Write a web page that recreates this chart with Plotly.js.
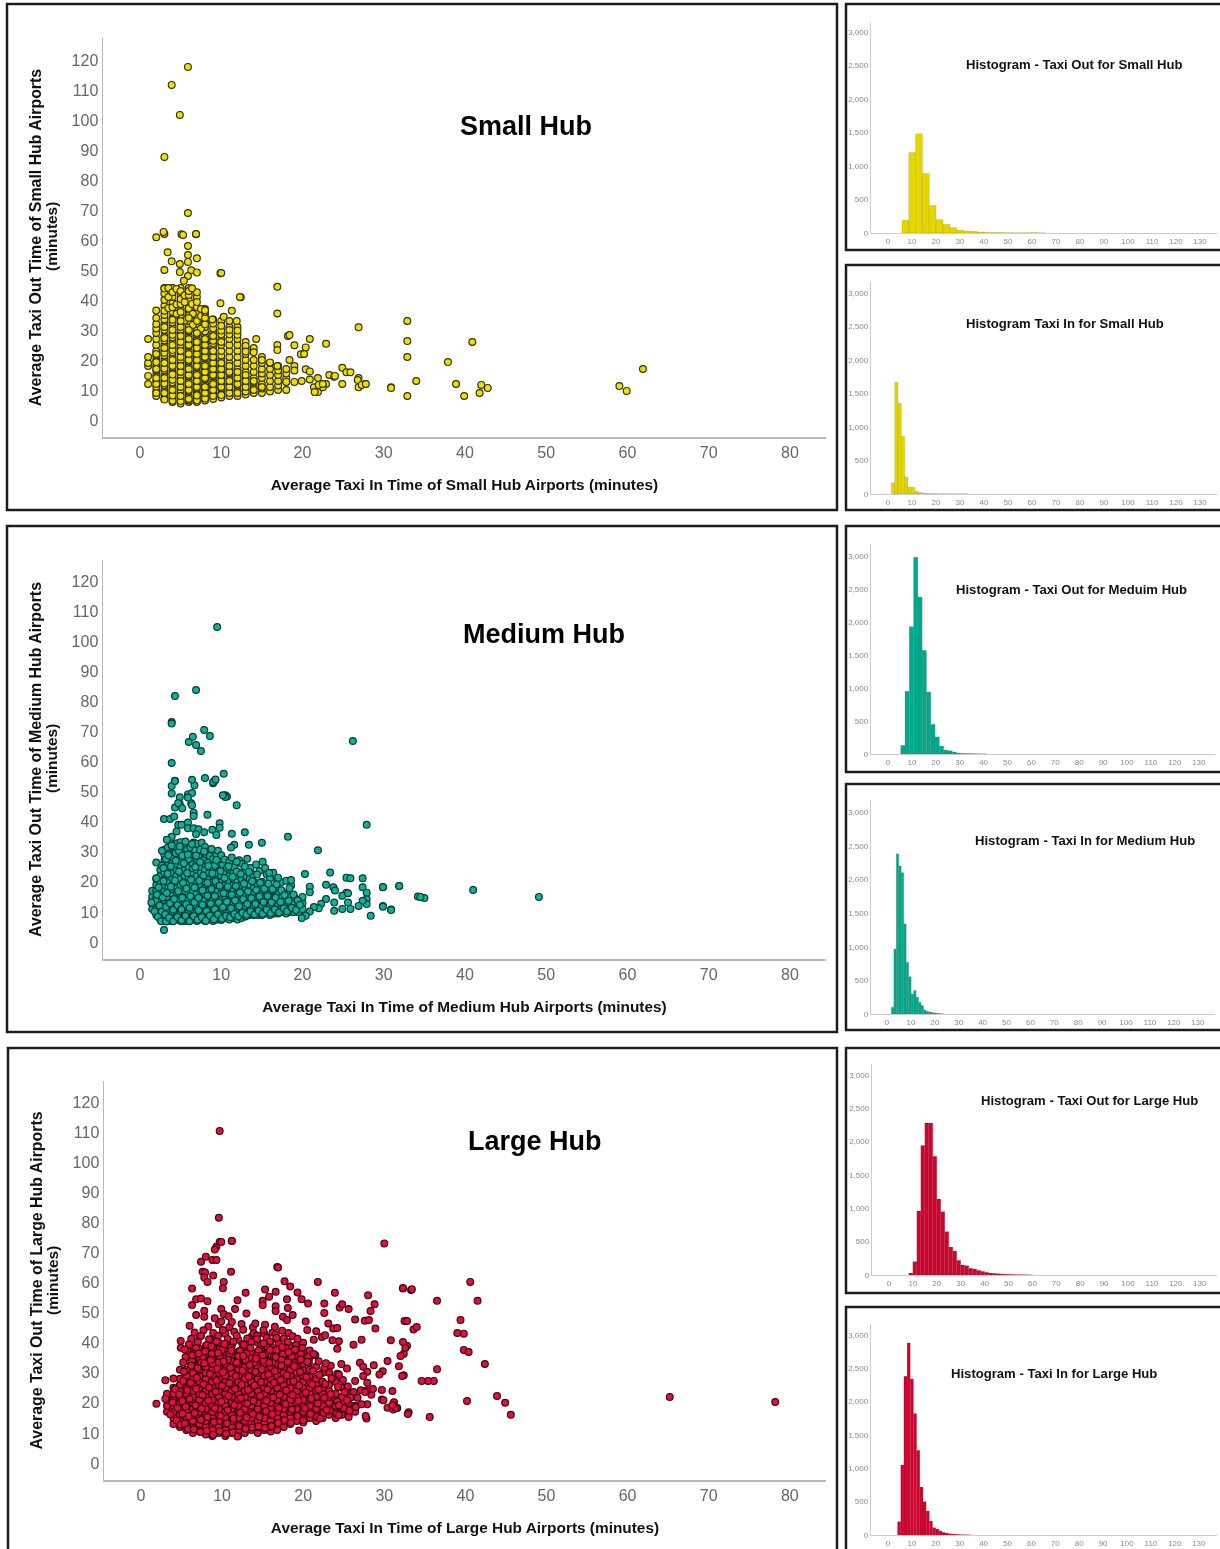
<!DOCTYPE html>
<html>
<head>
<meta charset="utf-8">
<script src="https://cdn.plot.ly/plotly-3.0.1.min.js"></script>
<style>html,body{margin:0;padding:0;background:#fff;overflow:hidden}#chart{width:1220px;height:1549px;filter:blur(0.4px)}</style>
</head>
<body>
<div id="chart"></div>
<script>
// ---------- DATA: scatter, dense core read as columns of taxi-in with taxi-out values ----------
const smallCoreIn=[1,2,3,4,5,6,7,8,9,10,11,12,13,14,15,16,17,18];
const smallCoreOut=[
[12,14.7,18,19,21,27],
[8,9.5,11,13,15,16.5,18,20,21.5,23,25,27,29,30.5,32,34,36.5],
[7,8.5,10,11.5,13,15,16.5,18,20,21.5,23,25,26.5,28,30,32,33.5,35,38,40,44],
[6,7.5,9,11,12.5,14,16,17.5,19,21,22.5,24,26,27.5,29,31,32.5,34,36,39,41,44],
[5.5,7,9,10,12,14,15,17,19,20,22,24,25,27,29,30,32,34,35,37,42,44],
[6,8,9.5,11,13,14.5,16,18,19.5,21,23,24.5,26,28,29.5,31,33,36.5,38,40,44],
[6,7.5,9,10.5,12,14,16,17.5,19,21,23,25,27,28.5,30,32,34,36,41],
[6.5,8,10,12,13.5,15,17,19,20.5,22,24,26,28,29.5,31,33,35,37],
[7,9,11,13,14.5,16,18,20,22,24,25.5,27,29,33.5],
[7.5,9,10.5,12,14,16,18,20,21.5,23,25,27,28.5,33],
[8,10,12,14,15.5,17,19,21,23,25,27,31,33],
[8,10,11.5,13,15,17,19,21,23,25,27,31],
[8.5,10,12,14,16,18,20,22,24,26],
[9,11,12.5,14,16,18,20,24],
[9,10.5,12,14,15.5,17,21],
[9.5,11,13,15,17,19],
[10,11.5,13,15,16.5,18],
[10,12.7,14,15.5,17]];
const smallExtra=[[2,9],[2,12],[2,14],[2,17],[2,19.3],[2,22],[3,6.8],[3,9],[3,12.2],[3,14],[3,17.2],[3,19],[3,22.4],[3,24],[3,27.3],[3,31],[4,6.4],[4,8.2],[4,10],[4,13.4],[4,15.2],[4,18],[4,20],[4,23.3],[4,25],[4,28.4],[4,30],[5,6.3],[5,8],[5,11],[5,13],[5,16],[5,18],[5,21],[5,23],[5,26],[5,28],[5,31],[5,33],[6,6.5],[6,7],[6,10],[6,12],[6,15],[6,17],[6,20],[6,22],[6,25],[6,27],[6,30],[6,34],[7,6.6],[7,8.2],[7,11],[7,13],[7,15],[7,18],[7,20],[7,22],[7,24],[7,26],[7,29],[8,7.2],[8,9],[8,11],[8,14],[8,16],[8,18],[8,21],[8,23],[8,25],[8,27],[9,8],[9,10],[9,12],[9,15],[9,17],[9,19],[9,21],[9,23],[10,8.3],[10,11],[10,13],[10,15],[10,17],[10,19],[11,9],[11,11],[11,13],[11,16],[11,18],[12,9],[12,12],[12,14],[12,16],[13,9.5],[13,11],[13,13],[13,15],[14,10],[14,13],[15,11]];
const smallUpper=[[3,36.4],[3,42.2],[3,43.8],[3.5,37.3],[3.5,41],[3.5,44],[4,37.6],[4,42.6],[4,33.4],[4.5,35.4],[4.5,38.6],[4.5,43.7],[5,38.7],[5,40.3],[5,36],[5,43],[5.5,33.2],[5.5,39.3],[5.5,41.6],[6,34.8],[6,37.2],[6,41.7],[6,43],[6.4,38.7],[6.5,31.7],[6.5,35.4],[7,33],[7,37.7],[7,39.3],[7,42.6],[7.5,30.4],[7.5,34.7],[7.5,37],[8,31.9],[8,34],[8,36],[9,26.4],[9,28],[9,30.5],[9,32.2],[10,26],[10,29.8],[10,31.4],[11,28.6],[11,30],[12,28.4],[12,29.8],[13,24.7],[13,22.8],[14,22.6],[15,19],[15,20]];
const smallOutlierIn=[2,3,5.1,6.9,5.9,3.4,5.9,7,5.9,3.9,4.9,3,4.9,6.3,7,5.9,5.4,9.9,16.9,6.4,12.4,9.9,11.3,16.9,8,10.3,11.9,8.9,26.9,14.3,20.9,18.2,18.4,16.9,16.9,19,22.9,20.4,19.8,20.2,18.4,16,16.9,19,19,24.9,25.4,25.9,20.4,20.9,21.9,23.3,23.9,26.9,26.9,27.7,30.9,24.9,22.9,21.9,21.4,22.5,20.9,19.9,19,18,12.3,32.9,32.9,32.9,32.9,40.9,37.9,38.9,39.9,34,30.9,41.8,42,42.8,59,59.9,61.9,5.9,3.9,4.9,3,5.9,10,6.9,5.3,2.9,24,22,22.5,21.5,26.8,27.3,27.8];
const smallOutlierOut=[60.9,62,61.9,61.9,58,55.9,55,53.9,52.7,52.9,52,50,49.3,49.9,49.2,48,46.4,48.9,44.4,43.9,40.9,38.9,36.4,35.5,36.6,34.4,33,33.5,30.9,27,27,28,28.3,25,23.3,24.9,25.4,24.2,21.9,22,20,19.2,18,18,16.5,17.4,15.9,15.9,16.9,16.2,14,15,14.4,14,10.9,12,10.9,12,12,9.3,10.9,10.9,13.5,13,12.7,12.7,41,33,26.3,21,8,26,19.3,12,8,13,10.7,9,11.7,10.7,11.3,9.7,17,117.7,111.7,101.7,87.7,69,49,62,61.7,62.7,14.7,11.7,12,9.3,13.3,11.7,12];

const mediumCoreIn=[1.5,2,2.5,3,3.5,4,4.5,5,5.5,6,6.5,7,7.5,8,8.5,9,9.5,10,10.5,11,11.5,12,12.5,13,13.5,14,14.5,15,15.5,16,16.5,17,17.5,18,18.5,19,19.5,20];
const mediumCoreOut=[
[11,13,15,17],
[9,11,13,15,17,19,21],
[7.5,9,11,12.5,14,16,18,20,22,24],
[7,8.5,10,12,14,15.5,17,19,21,23,25,27,29],
[7,9,11,13,15,17,18.5,20,22,24,26,28,30],
[7,8.5,10,12,14,16,17.5,19,21,23,25,27,29,31],
[7.5,9,11,13,15,16.5,18,20,22,24,26,28,30],
[7,8.5,10,12,14,16,17.5,19,21,23,25,27,29,31],
[7,9,11,13,15,17,19,20.5,22,24,26,28,30],
[7,8.5,10,12,14,16,18,20,21.5,23,25,27,29,31],
[7.5,9,11,13,15,17,19,21,23,24.5,26,28,30],
[7,8.5,10,12,14,16,18,20,22,24,26,27.5,29,31],
[7.5,9,11,13,15,17,19,21,23,25,27,29],
[7,8.5,10,12,14,16,18,20,22,24,26,28],
[7.5,9,11,13,15,17,19,21,23,25,27],
[7,8.5,10,12,14,16,18,20,22,24,26],
[7.5,9,11,13,15,17,19,21,23,25],
[7.3,8.5,10,12,14,16,18,20,22,24],
[8,9.5,11,13,15,17,19,21,23],
[7.5,9,10,12,14,16,18,20,22,24],
[8,9.5,11,13,15,17,19,21,23],
[7.5,9,10.5,12,14,16,18,20,22],
[8,10,11.5,13,15,17,19,21],
[8.5,10,12,14,16,18,20,22],
[9,10.5,12,13.5,15,17,19,21],
[9,10.5,12,14,16,18,20],
[9,11,13,15,17,19],
[9,10.5,12,14,16,18,20],
[9.5,11,13,15,17],
[9,10.5,12,14,16,18],
[9.5,11,13,15,17],
[9.5,11,12.5,14,16],
[10,11.5,13,15],
[9.5,11,12.5,14,16],
[10,11.5,13,15],
[10,11.5,13,15],
[10,12,14],
[11,13,15]];
const mediumExtra=[[1.8,10.2],[1.9,13.6],[2.1,15.7],[2.2,8.4],[2.3,18.2],[2.4,12.1],[2.6,6.9],[2.7,10.1],[2.8,14.8],[2.9,20.3],[2.9,24.6],[3.1,9.2],[3.2,6.8],[3.2,11.7],[3.3,16.3],[3.4,22.7],[3.5,28.8],[3.6,8.1],[3.7,12.9],[3.8,18.4],[3.8,25.2],[3.9,32.1],[4.1,6.9],[4.1,10.7],[4.2,14.3],[4.3,20.4],[4.4,27.1],[4.6,8.3],[4.6,12.2],[4.7,16.9],[4.8,23.4],[4.9,31.8],[5.1,7.2],[5.1,10.9],[5.2,14.7],[5.3,19.6],[5.4,26.2],[5.6,8.7],[5.7,12.5],[5.7,17.8],[5.8,22.9],[5.9,29.1],[6.1,6.9],[6.1,11.4],[6.2,15.2],[6.3,20.7],[6.4,32.6],[6.6,8.6],[6.7,13.2],[6.7,18.1],[6.8,24.9],[6.9,28.7],[7.1,7.4],[7.2,10.6],[7.2,14.7],[7.3,20.4],[7.4,26.6],[7.6,8.3],[7.7,12.4],[7.7,17.2],[7.8,22.1],[7.9,30.1],[8.1,7.1],[8.2,10.3],[8.3,15.4],[8.3,19.7],[8.4,25.3],[8.6,8.8],[8.7,12.7],[8.8,17.6],[8.9,22.8],[9.1,7.6],[9.2,10.9],[9.2,15.3],[9.3,20.2],[9.4,27.3],[9.6,9.2],[9.7,13.1],[9.8,18.7],[9.9,23.6],[10.1,7.8],[10.2,11.6],[10.3,16.2],[10.4,21.3],[10.6,8.7],[10.7,13.4],[10.8,18.4],[10.9,25.2],[11.1,8.2],[11.2,11.2],[11.3,15.7],[11.4,21.7],[11.6,9.3],[11.7,13.8],[11.8,18.6],[11.9,26.7],[12.1,8.6],[12.2,11.9],[12.3,16.4],[12.4,22.6],[12.6,9.7],[12.7,14.3],[12.8,19.4],[12.9,25.1],[13.1,9.1],[13.2,12.6],[13.3,16.8],[13.4,23.3],[13.6,10.2],[13.7,14.6],[13.8,20.3],[14.1,9.2],[14.2,12.7],[14.3,17.3],[14.4,22.4],[14.6,10.4],[14.7,15.2],[14.8,19.7],[15.1,9.4],[15.2,13.3],[15.3,17.7],[15.4,24.6],[15.6,10.7],[15.7,15.3],[15.8,19.4],[16.1,9.6],[16.2,13.2],[16.3,17.6],[16.6,10.8],[16.7,14.8],[16.8,19.2],[17.1,9.8],[17.3,13.3],[17.4,17.2],[17.7,11.2],[17.8,15.6],[18.1,10.2],[18.3,13.7],[18.4,17.9],[18.7,11.4],[18.9,15.8],[19.2,10.6],[19.4,13.8],[19.7,12.4]];
const mediumUpper=[[2.7,25.4],[3,30.7],[3.2,27.6],[3.4,31.3],[3.6,29.4],[3.8,33],[4,28.2],[4.2,31.9],[4.4,29.6],[4.6,32.8],[4.8,30.2],[5,33.2],[5.2,28.7],[5.4,31.6],[5.6,33.4],[5.8,30.7],[6,27.6],[6.2,31.4],[6.4,29.2],[6.6,33.1],[6.8,30.4],[7,32.7],[7.2,28.3],[7.4,30.7],[7.6,33],[7.8,27.2],[8,31.6],[8.2,29.1],[8.4,26.4],[8.6,28.6],[8.8,30.9],[9,27.7],[9.2,25.4],[9.4,28.9],[9.6,30.3],[9.8,26.6],[10,28.8],[10.2,25.7],[10.4,27.4],[10.7,24.7],[11,26.7],[11.3,28.1],[11.6,24.8],[11.9,23.4],[12.2,27.2],[12.5,26],[12.8,23.7],[13.2,27.7],[13.6,24.6],[13.9,22.4],[14.3,25.8],[14.7,23.6],[15.1,26.7],[15.6,22.4],[16,21.2],[16.4,23],[16.9,20.6],[17.4,19.9],[18,20.4],[18.6,18.8]];
const mediumOutlierIn=[2.95,27.9,18.2,21.9,12.9,11.3,15,13.4,11.6,11.2,8.3,11.9,10.5,10.7,6.7,9,9.2,3.9,4.3,3.9,4.9,5.9,4.3,4.9,5.2,6.3,6.4,6.6,6.6,2.95,3.7,4.2,4.7,5.9,5.1,5.9,6.6,7.2,7.9,8.9,9.8,9.8,9.4,6.9,4.5,3.9,3.3,2.7,2,2,1.4,15.9,17,18.6,20.3,23.4,25.4,25.9,27.4,22.9,23.8,24,20.9,20.9,27.4,29.9,31.9,34.2,27.9,27.9,27.9,27.4,26.9,25.4,24.9,25.6,25.6,25.9,24.9,23.9,23.9,22.9,22.3,22,21.4,20.9,20.4,19.9,29.9,30.9,28.4,49.1,41,35,34.5,31.9,29.9,29.9,30.9,9.5,6.9,4.3,3.9,3.9,26.2,7.9,8.6,6.5,6,6.9,7.5,3.9,10.3,8,9,9.3,6.4,4.3,10.5,10.2,6.4,5.9,4.7];
const mediumOutlierOut=[4,39,35,30.5,36.5,36,33,32.3,32.3,31.4,42.3,45.5,48.8,48.4,52.1,52.8,53.6,51.9,53.6,49.4,48.1,49,44.7,45.8,44.5,46.1,45.5,43,41.9,40.9,40.9,41.7,39,39.7,39,37.8,37.8,37.5,36.5,37.3,39.5,38,35.6,35.9,36.7,35,34,30.3,26.4,21.2,13.1,23,21.4,20.6,22.6,23.1,21.4,21.2,21.2,19,18.2,17.1,18.4,16.5,18.2,18.2,18.6,15.1,16.4,14.2,12.6,13.7,12,16.4,15.4,16.2,13.1,11,11,13.1,10.4,14.3,12.7,11.2,11.6,10.1,8.7,8,12,10.8,8.7,15,17.3,14.6,15,18.6,18.3,11.7,10.6,104.7,83.8,81.8,73.1,72.6,66.8,70.5,68.5,68.2,66.5,65.5,63.5,59.5,55.9,54.5,53.2,54,53.9,53.5,48.2,48.8,49.5,48,46.2];

const largeCoreIn=[3.2,4,4.8,5.6,6.4,7.2,8,8.8,9.6,10.4,11.2,12,12.8,13.6,14.4,15.2,16,16.8,17.6,18.4,19.2,20,20.8,21.6,22.4,23.2,24,24.8,25.6,26.4];
const largeCoreOut=[
[17,19,21,23],
[13,15,17,19,21,23,25],
[12,14,16,18,20,22,24,26,28,31],
[11,13,15,17,19,21,23,25,27,29,31,34],
[10,12,14,16,18,20,22,24,26,28,30,32,34,37,40],
[11,13,15,17,19,21,23,25,27,29,31,33,35,38,42],
[9.5,12,14,16,18,20,22,24,26,28,30,32,34,36,39],
[9,11,13,15,17,19,21,23,25,27,29,31,33,35,37,41],
[10,12,14,16,18,20,22,24,26,28,30,32,34,36,38,40],
[9,11,13,15,17,19,21,23,25,27,29,31,33,35,37,43],
[10,12,14,16,18,20,22,24,26,28,30,32,34,36,39],
[9,11,13,15,17,19,21,23,25,27,29,31,33,35,37,41],
[10,12,14,16,18,20,22,24,26,28,30,32,34,36,38],
[11,13,15,17,19,21,23,25,27,29,31,33,35,37,42],
[10,12,14,16,18,20,22,24,26,28,30,32,34,36,40],
[11,13,15,17,19,21,23,25,27,29,31,33,35,37,43],
[10.5,12,14,16,18,20,22,24,26,28,30,32,34,36,39],
[11,13,15,17,19,21,23,25,27,29,31,33,35,37,41],
[12,14,16,18,20,22,24,26,28,30,32,34,36,38],
[13,15,17,19,21,23,25,27,29,31,33,35,39],
[14,16,18,20,22,24,26,28,30,32,34,36],
[13.5,15,17,19,21,23,25,27,29,31,33,37],
[15,17,19,21,23,25,27,29,31,35],
[14,16,18,20,22,24,26,28,32],
[15,17,19,21,23,25,27,30],
[16,18,20,22,24,26,30],
[15,17,19,21,23,27],
[16,18,20,22,25],
[16,18,20,23],
[17,19,22]];
const largeExtra=[[3.6,16.2],[3.9,20.1],[4.2,24.6],[4.4,14.2],[4.5,18.3],[4.7,22.8],[4.9,12.7],[5.1,16.4],[5.1,20.6],[5.2,27.3],[5.3,30.4],[5.4,13.1],[5.5,18.7],[5.7,24.2],[5.8,11.3],[5.9,15.6],[6,21.3],[6.1,26.7],[6.2,32.4],[6.3,35.8],[6.5,11.2],[6.6,16.6],[6.7,19.2],[6.8,24.7],[6.9,28.3],[7,31.6],[7.1,36.4],[7.3,10.3],[7.4,14.4],[7.5,18.1],[7.6,22.6],[7.7,26.2],[7.8,33.2],[7.9,37.1],[8.1,10.7],[8.2,15.3],[8.3,20.8],[8.4,25.1],[8.5,29.6],[8.6,34.2],[8.7,38.7],[8.9,9.4],[9,13.6],[9.1,18.2],[9.2,23.7],[9.3,27.4],[9.4,31.3],[9.5,36.6],[9.7,10.6],[9.8,15.7],[9.9,20.4],[10,25.7],[10.1,30.2],[10.2,33.8],[10.3,39.6],[10.5,9.7],[10.6,13.2],[10.7,17.6],[10.8,22.3],[10.9,26.6],[11,31.7],[11.1,37.4],[11.3,10.2],[11.4,14.8],[11.5,19.3],[11.6,24.6],[11.7,28.9],[11.8,33.4],[11.9,8.8],[12.1,12.3],[12.2,16.7],[12.3,21.6],[12.4,26.1],[12.5,30.7],[12.6,35.6],[12.7,39.3],[12.9,11.4],[13,15.1],[13.1,19.8],[13.2,24.3],[13.3,28.7],[13.4,32.6],[13.5,38.2],[13.7,11.8],[13.8,16.3],[13.9,20.6],[14,25.8],[14.1,30.3],[14.2,34.7],[14.3,41.2],[14.5,12.2],[14.6,15.4],[14.7,22.3],[14.8,26.9],[14.9,31.2],[15,35.8],[15.1,39.8],[15.3,11.6],[15.4,17.3],[15.5,20.7],[15.6,24.4],[15.7,29.4],[15.8,33.3],[15.9,37.6],[16.1,12.3],[16.2,16.2],[16.3,21.8],[16.4,26.7],[16.5,30.6],[16.6,35.2],[16.7,41.6],[16.9,13.4],[17,18.3],[17.1,22.7],[17.2,27.6],[17.3,32.4],[17.4,38.6],[17.7,14.3],[17.8,19.6],[17.9,24.2],[18,29.2],[18.1,33.6],[18.2,36.8],[18.5,13.4],[18.6,17.8],[18.7,22.6],[18.8,27.2],[18.9,32.2],[19,37.7],[19.3,15.6],[19.4,20.7],[19.5,25.8],[19.6,30.3],[19.7,34.4],[20.1,14.2],[20.2,18.2],[20.3,23.4],[20.4,28.6],[20.5,33.7],[20.9,16.3],[21,21.4],[21.1,26.2],[21.2,30.6],[21.3,36.2],[21.7,15.4],[21.8,19.8],[21.9,24.4],[22,29.3],[22.5,16.6],[22.6,21.7],[22.7,26.3],[22.8,33.2],[23.3,17.4],[23.4,22.8],[23.5,28.2],[24.1,16.4],[24.2,20.4],[24.3,25.3],[24.4,29.4],[25,18.3],[25.1,23.6],[25.7,17.4],[25.8,21.8],[26.5,18.6]];
const largeUpper=[[8.3,45.4],[9.6,46.1],[10.9,45.2],[12.4,46.2],[13.8,45.1],[15.3,46],[16.5,45.3],[6.6,43.4],[7.7,44.1],[8.9,43.2],[10.1,44.2],[11.5,43.6],[12.6,44.3],[13.9,43.1],[15.1,44.2],[16.2,43.3],[17.4,44],[18.2,43.2],[6.2,41.3],[7.4,42.2],[8.4,41.1],[9.5,42.3],[10.7,41.2],[11.8,42.4],[13.1,41.4],[14.3,42.4],[15.5,41.6],[16.6,42.8],[17.6,41.4],[18.7,42.1],[19.3,41.3],[5.9,39.4],[7,40.2],[8.1,39.2],[9.3,40.4],[10.4,39.6],[11.4,40.3],[12.5,39.5],[13.6,40.2],[14.8,39.2],[15.9,40.4],[17,39.6],[18.1,40.2],[19.1,39.2],[20,40],[5.7,37.3],[6.8,38.2],[7.8,37.2],[8.9,38.3],[10,37.6],[11.1,38.4],[12.2,37.3],[13.3,38.2],[14.5,37.4],[15.6,38.5],[16.7,37.6],[17.8,38.3],[18.9,37.2],[19.9,38.2],[20.8,37.4],[5.5,35.2],[6.6,36.3],[7.6,35.4],[8.7,36.2],[9.7,35.1],[10.9,36.3],[12,35.5],[13,36.4],[14.2,35.6],[15.3,36.2],[16.4,35.3],[17.5,36.1],[18.6,35.4],[19.7,36.2],[20.6,35.2],[21.5,35.8],[5.2,33.4],[6.3,34.2],[7.4,33.3],[8.5,34.4],[9.6,33.5],[10.7,34.3],[11.8,33.2],[12.9,34.3],[14,33.5],[15.1,34.2],[16.2,33.4],[17.3,34.3],[18.4,33.2],[19.5,34.1],[20.7,33.3],[21.9,33.8],[22.6,31.6],[23.4,32.3],[24.2,29.7],[24.9,27.6],[25.5,25.4],[26.2,23.6]];
const largeOutlierIn=[1.9,3,4,3,4.9,4.9,5.4,6,6.3,6.3,6.8,7.4,8.2,6.8,7.8,7.8,7.4,8,8.8,9.3,7.6,7.9,8.9,7.8,8.2,10.2,10.1,11.1,9.3,9.7,11.2,12.9,11.9,11.6,9.9,10.2,9.1,9.9,10.8,11.2,13,14.1,15,15,15.3,15.8,16.6,16.6,16.6,16.8,17.7,18.4,19.3,19.8,20.6,18,18.1,18.7,17.5,18,20.3,20.5,21.6,21.8,23.9,22.6,22.6,23.1,23.7,24.2,24.5,24.8,25.6,26.4,27.6,28.1,28.3,28.8,28,28.9,32.3,33.3,30,32.5,33.6,30.8,32.8,32.4,27.2,26.2,24.4,23.6,24.2,21.3,22.3,22.7,30.4,31.8,28.7,32.4,29.8,29.4,27,27.4,27.9,27.4,27.9,26.4,25.4,24.7,29.7,28.4,27.9,27.1,26.7,29.7,31.2,31.6,30.4,31.1,33,27.8,27.9,27.2,25.6,24.4,22.9,19.5,20,22.1,25.4,24.4,9.7,9.6,11.2,9.1,9.9,16.9,40.6,33.4,32.3,36.5,41.5,39.4,39.8,39,39.8,40.4,42.4,36.5,36.1,35.4,34.6,32.3,32.8,34,32.6,32,32.2,31,31.4,31,29.9,32.9,35.6,40.2,43.9,44.9,45.6,65.2,78.2,27.6,27.7,28.6];
const largeOutlierOut=[19.7,27.5,28.1,21.4,40.6,38.3,37.7,45.6,58,52.5,54.4,54.7,53.8,49.2,50.6,48.6,66.9,68.6,67.5,67.5,63.6,63.3,62.3,61.7,60.2,60.2,58.1,63.6,71.9,73.5,73.8,56.6,54.1,51.2,51.2,49.5,48.1,47,48.8,46.9,49.7,46.4,53.9,52.5,57.7,55.3,56.9,52.1,50.5,65.2,60.4,58.7,56.7,54.4,53,54.4,51.5,49.2,48.6,47.5,47,44.2,43.8,60.2,56.6,53,49.9,46.4,44.7,44.9,51.7,52.8,51.2,47.7,47.3,47.5,50.5,52.8,55.8,44.7,58,57.5,73,47.2,44.4,40.8,39,36.3,41,39.3,40.5,40.8,38,41,41.9,42.5,33.9,32.2,32.5,29.2,30.5,29.4,33.3,32,30.3,28.9,26.7,27.3,31.4,32.9,24.3,22.7,24.2,24.2,21.7,21.1,20.2,18.3,18.4,17.8,16.9,14.8,19.5,19.5,15.3,15.9,17.6,10.8,14.2,14.8,20.9,19.2,110.4,81.5,73.8,71,73.5,65,60.2,57.8,58.2,53.9,53.9,47.5,43,43.2,37.6,36.9,32.9,31.2,27.3,27.3,27.3,40.2,47.2,45.2,38.2,35.6,28.9,23.9,18.3,19.3,20.9,16.3,15.3,20.6,22.3,20,16,21.9,20.3,23.6,15.6,24.6];

// ---------- DATA: histograms (bin starts in minutes, counts) ----------
const smallOutStart=[5.8,8.65,11.5,14.35,17.2,20.05,22.9,25.75,28.6,31.45,34.3,37.15,40,42.85,45.7,48.55,51.4,54.25,57.1,59.95,62.8];
const smallOutCounts=[190,1200,1480,890,410,200,130,80,45,30,25,15,10,8,6,4,3,2,4,6,2];
const smallInStart=[1.4,2.79,4.18,5.57,6.96,8.35,9.74,11.13,12.52,13.91,15.3,16.69,18.08,19.47,20.86,22.25,23.64,25.03,26.42,27.81,29.2,30.59,32];
const smallInCounts=[165,1670,1350,860,255,100,100,40,25,15,12,8,6,5,3,8,3,3,2,2,2,6,2];
const mediumOutStart=[5.3,7.1,8.9,10.7,12.5,14.3,16.1,17.9,19.7,21.5,23.3,25.1,26.9,28.7,30.5,32.3,34.1,35.9,37.7,39.5];
const mediumOutCounts=[130,950,1930,2980,2380,1570,940,450,260,120,60,50,30,15,10,8,6,5,3,2];
const mediumInStart=[1.8,2.84,3.88,4.92,5.96,7,8.04,9.08,10.12,11.16,12.2,13.24,14.28,15.32,16.36,17.4,18.44,19.48,20.52,21.56,22.6];
const mediumInCounts=[100,965,2380,2200,2100,1340,770,555,300,350,250,175,125,60,40,30,25,15,12,8,5];
const largeOutStart=[8.3,9.97,11.64,13.31,14.98,16.65,18.32,19.99,21.66,23.33,25,26.67,28.34,30.01,31.68,33.35,35.02,36.69,38.36,40.03,41.7,43.37,45.04,46.71,48.38,50.05,51.72,53.39,55.06,56.73,58.4];
const largeOutCounts=[30,200,960,1940,2280,2280,1780,1140,950,650,420,360,220,150,140,100,90,70,55,40,30,25,20,15,12,10,8,6,5,4,3];
const largeInStart=[4,5.33,6.66,7.99,9.32,10.65,11.98,13.31,14.64,15.97,17.3,18.63,19.96,21.29,22.62,23.95,25.28,26.61,27.94,29.27,30.6,31.93,33.26];
const largeInCounts=[200,1050,2380,2880,2340,1820,1270,720,500,360,210,110,90,60,40,30,20,15,10,8,5,4,3];

// ---------- TICKS AND TEXT ----------
const scatterXTicks=[0,10,20,30,40,50,60,70,80];
const scatterYTicks=[0,10,20,30,40,50,60,70,80,90,100,110,120];
const histXTicks=[0,10,20,30,40,50,60,70,80,90,100,110,120,130];
const histYTicks=[0,500,1000,1500,2000,2500,3000];
const YELLOW='#f2de00', YELLOW_BAR='#e4d600', TEAL='#10b09a', TEAL_BAR='#00a98e', RED='#e00f3c', RED_BAR='#d0022f';
const FONT='Liberation Sans, Arial, sans-serif';

// ---------- LAYOUT HELPERS ----------
const W=1220,H=1549;
const fx=p=>p/W, fy=p=>1-p/H;
const traces=[], annotations=[], shapes=[], layout={};
let idx=0;
function frame(x0,y0,x1,y1){
  shapes.push({type:'rect',xref:'paper',yref:'paper',x0:fx(x0),x1:fx(x1),y0:fy(y1),y1:fy(y0),
    line:{color:'#1c1c1c',width:2.5},fillcolor:'rgba(0,0,0,0)',layer:'below'});
}
function axes(g,xTicks,yTicks,tickFont,xTitle,yTitle){
  idx++;
  const s=idx===1?'':String(idx);
  layout['xaxis'+s]={domain:[fx(g.left),fx(g.right)],range:[(g.left-g.x0)/g.xs,(g.right-g.x0)/g.xs],
    anchor:'y'+s,tickmode:'array',tickvals:xTicks,ticks:'',showgrid:false,zeroline:false,showline:true,
    linecolor:g.axisColor,linewidth:g.axisW,tickfont:tickFont,title:xTitle,ticklabelstandoff:g.xStand||0,fixedrange:true};
  layout['yaxis'+s]={domain:[fy(g.bottom),fy(g.top)],range:[(g.y0-g.bottom)/g.ys,(g.y0-g.top)/g.ys],
    anchor:'x'+s,tickmode:'array',tickvals:yTicks,ticks:'',showgrid:false,zeroline:false,showline:true,
    linecolor:g.axisColor,linewidth:g.axisW,tickfont:tickFont,tickformat:',',title:yTitle,fixedrange:true};
  return {xaxis:'x'+s,yaxis:'y'+s};
}
function scatterPanel(g,coreIn,coreOut,extra,upper,outIn,outOut,color,lineColor,hub,titleX,titleY,unitY){
  const a=axes(Object.assign({axisColor:'#b8b8b8',axisW:1.5,xStand:0},g),scatterXTicks,scatterYTicks,
    {family:FONT,size:16,color:'#666'},
    {text:'Average Taxi In Time of '+hub+' Hub Airports (minutes)',standoff:19,font:{family:FONT,size:15.4,color:'#111',weight:'bold'}},
    {text:'Average Taxi Out Time of '+hub+' Hub Airports',standoff:26,font:{family:FONT,size:15.9,color:'#111',weight:'bold'}});
  const xs=[],ys=[];
  coreIn.forEach((c,i)=>coreOut[i].forEach(v=>{xs.push(c);ys.push(v);}));
  upper.forEach(p=>{xs.push(p[0]);ys.push(p[1]);});
  extra.forEach(p=>{xs.push(p[0]);ys.push(p[1]);});
  outIn.forEach((c,i)=>{xs.push(c);ys.push(outOut[i]);});
  traces.push(Object.assign({type:'scatter',mode:'markers',x:xs,y:ys,showlegend:false,hoverinfo:'skip',
    marker:{size:6.8,color:color,line:{color:lineColor,width:1.2}}},a));
  annotations.push({xref:'paper',yref:'paper',x:fx(titleX),y:fy(titleY),xanchor:'center',yanchor:'middle',showarrow:false,
    text:'<b>'+hub+' Hub</b>',font:{family:FONT,size:27,color:'#000'}});
  annotations.push({xref:'paper',yref:'paper',x:fx(g.left-52),y:fy(unitY),xanchor:'center',yanchor:'middle',showarrow:false,textangle:-90,
    text:'<b>(minutes)</b>',font:{family:FONT,size:15.4,color:'#111'}});
}
function histPanel(g,starts,counts,width,color,title,titleX,titleY){
  const a=axes(Object.assign({axisColor:'#cccccc',axisW:1.2,xStand:0},g),histXTicks,histYTicks,
    {family:FONT,size:8,color:'#8a8a8a'},undefined,undefined);
  traces.push(Object.assign({type:'bar',x:starts,y:counts,width:width,offset:0,showlegend:false,hoverinfo:'skip',
    marker:{color:color,line:{color:'rgba(90,80,40,0.3)',width:0.5}}},a));
  annotations.push({xref:'paper',yref:'paper',x:fx(titleX),y:fy(titleY),xanchor:'center',yanchor:'middle',showarrow:false,
    text:'<b>'+title+'</b>',font:{family:FONT,size:13.1,color:'#111'}});
}

// frames
frame(7,4,837,510); frame(7,526,837,1032); frame(8,1048,837,1560);
frame(846,4,1230,250); frame(846,265,1230,510); frame(846,526,1230,772);
frame(846,784,1230,1030); frame(846,1048,1230,1293); frame(846,1307,1230,1560);

// scatter panels
scatterPanel({left:103,right:826,top:38,bottom:437,x0:140,xs:8.125,y0:420,ys:3},
  smallCoreIn,smallCoreOut,smallExtra,smallUpper,smallOutlierIn,smallOutlierOut,YELLOW,'#33330c','Small',526,126,237);
scatterPanel({left:103,right:826,top:560,bottom:959,x0:140,xs:8.125,y0:942,ys:3.008},
  mediumCoreIn,mediumCoreOut,mediumExtra,mediumUpper,mediumOutlierIn,mediumOutlierOut,TEAL,'#063b34','Medium',544,634,759);
scatterPanel({left:104,right:826,top:1081,bottom:1480,x0:141,xs:8.11,y0:1463,ys:3.008},
  largeCoreIn,largeCoreOut,largeExtra,largeUpper,largeOutlierIn,largeOutlierOut,RED,'#3d0612','Large',535,1141,1281);

// histogram panels
histPanel({left:871,right:1217,top:22,bottom:233,x0:888,xs:2.4,y0:233,ys:0.067},smallOutStart,smallOutCounts,2.85,YELLOW_BAR,'Histogram - Taxi Out for Small Hub',1074,64);
histPanel({left:871,right:1217,top:282,bottom:494,x0:888,xs:2.4,y0:494,ys:0.067},smallInStart,smallInCounts,1.39,YELLOW_BAR,'Histogram Taxi In for Small Hub',1065,323);
histPanel({left:871,right:1215,top:544,bottom:754,x0:888,xs:2.39,y0:754,ys:0.066},mediumOutStart,mediumOutCounts,1.8,TEAL_BAR,'Histogram - Taxi Out for Meduim Hub',1071,589);
histPanel({left:871,right:1215,top:800,bottom:1014,x0:887,xs:2.39,y0:1014,ys:0.0673},mediumInStart,mediumInCounts,1.04,TEAL_BAR,'Histogram - Taxi In for Medium Hub',1085,840);
histPanel({left:872,right:1217,top:1064,bottom:1275,x0:889,xs:2.39,y0:1275,ys:0.0667},largeOutStart,largeOutCounts,1.67,RED_BAR,'Histogram - Taxi Out for Large Hub',1089,1100);
histPanel({left:871,right:1217,top:1324,bottom:1535,x0:888,xs:2.39,y0:1535,ys:0.0667},largeInStart,largeInCounts,1.33,RED_BAR,'Histogram - Taxi In for Large Hub',1054,1373);

Object.assign(layout,{width:W,height:H,margin:{l:0,r:0,t:0,b:0},paper_bgcolor:'#fff',plot_bgcolor:'rgba(0,0,0,0)',
  showlegend:false,annotations:annotations,shapes:shapes,bargap:0,hovermode:false});
Plotly.newPlot('chart',traces,layout,{displayModeBar:false,staticPlot:true});
</script>
</body>
</html>
